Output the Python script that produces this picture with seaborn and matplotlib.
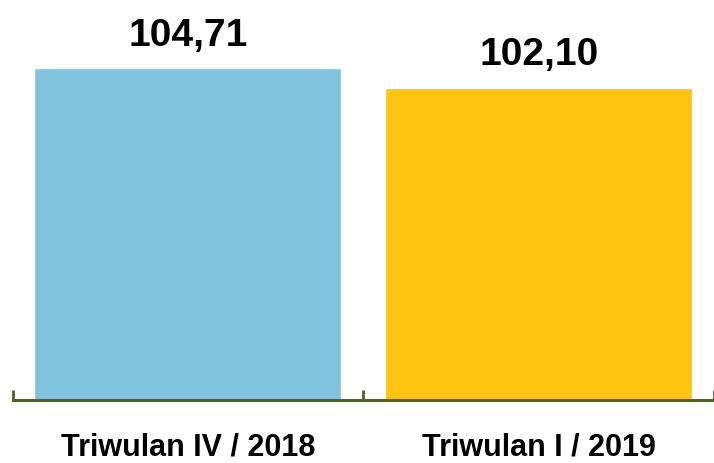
import matplotlib
matplotlib.use("Agg")
import matplotlib.pyplot as plt
import seaborn as sns
import pandas as pd

categories = ["Triwulan IV / 2018", "Triwulan I / 2019"]
values = [104.71, 102.10]
value_labels = ["104,71", "102,10"]
colors = ["#82C3E0", "#FFC311"]

sns.set_style("white")
plt.rcParams["font.family"] = ["Liberation Sans", "DejaVu Sans"]
plt.rcParams["text.color"] = "black"
plt.rcParams["xtick.color"] = "#4F6228"
plt.rcParams["xtick.labelcolor"] = "black"

df = pd.DataFrame({"cat": categories, "val": values})

fig = plt.figure(figsize=(7.14, 4.63), dpi=100)
ax = fig.add_axes([12.5 / 714, 63 / 463, 1 - 12.5 / 714, 400 / 463])
sns.barplot(data=df, x="cat", y="val", hue="cat", palette=colors, width=0.875,
            legend=False, ax=ax, saturation=1)
ax.set_ylim(60, 113.9)
ax.set_xlim(-0.5, 1.48)
for s in ["top", "right", "left"]:
    ax.spines[s].set_visible(False)
ax.spines["bottom"].set_color("#4F6228")
ax.spines["bottom"].set_linewidth(2.2)
ax.set_yticks([])
ax.set_xticks([-0.5, 0.5, 1.5], minor=True)
ax.tick_params(axis="x", which="minor", bottom=True, direction="in", length=7,
               width=2, color="#4F6228")
ax.tick_params(axis="x", which="major", bottom=False, length=0, pad=23.5,
               labelsize=22, labelcolor="black")
for lab in ax.get_xticklabels():
    lab.set_fontweight("bold")
ax.set_xlabel("")
ax.set_ylabel("")
for i, (v, t) in enumerate(zip(values, value_labels)):
    ax.annotate(t, (i, v), xytext=(0, 16), textcoords="offset points",
                ha="center", va="baseline", fontsize=28, fontweight="bold",
                color="black")
fig.savefig("out.png", dpi=100)
